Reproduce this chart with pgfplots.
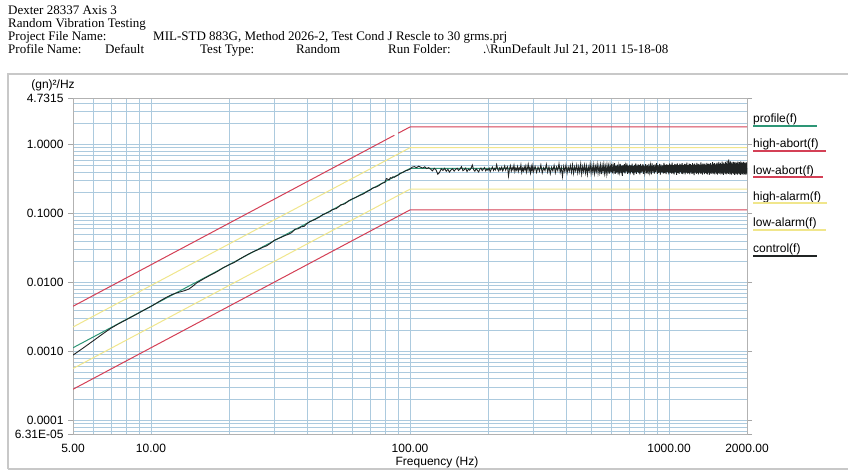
\documentclass[border=0pt]{standalone}
\usepackage{pgfplots}
\pgfplotsset{compat=1.18}
\usepackage{fontspec}
\setmainfont{Liberation Serif}
\newfontfamily\arial{Liberation Sans}
\definecolor{gridc}{RGB}{172,202,222}
\definecolor{abortc}{RGB}{212,64,86}
\definecolor{alarmc}{RGB}{240,230,140}
\definecolor{profc}{RGB}{45,150,118}
\definecolor{ctrlc}{RGB}{32,36,36}
\definecolor{framec}{RGB}{200,200,200}
\begin{document}
\begin{tikzpicture}
\begin{scope}[x=1pt,y=1pt]
\useasboundingbox (0,0) rectangle (848,470);
\fill[white] (0,0) rectangle (848,470);
\draw[framec, line width=1.2pt] (8,1) -- (8,396) -- (848,396);
\draw[framec, line width=1.2pt] (8,1) -- (848,1);
% header
\begin{scope}[every node/.style={anchor=base west, inner sep=0pt, font=\fontsize{13}{14}\selectfont}]
\node at (8,455) {Dexter 28337 Axis 3};
\node at (8,442) {Random Vibration Testing};
\node at (8,429) {Project File Name:};
\node at (153,429) {MIL-STD 883G, Method 2026-2, Test Cond J Rescle to 30 grms.prj};
\node at (8,416) {Profile Name:};
\node at (105,416) {Default};
\node at (200,416) {Test Type:};
\node at (296,416) {Random};
\node at (388,416) {Run Folder:};
\node at (483,416) {.\textbackslash RunDefault Jul 21, 2011 15-18-08};
\end{scope}
\end{scope}
\begin{axis}[
  at={(73pt,36pt)}, anchor=south west, width=674pt, height=336pt, scale only axis,
  xmode=log, ymode=log, xmin=5, xmax=2000, ymin=6.31e-5, ymax=4.7315,
  xtick={5,10,100,1000,2000},
  xticklabels={5.00,10.00,100.00,1000.00,2000.00},
  ytick={6.31e-5,1e-4,1e-3,1e-2,1e-1,1,4.7315},
  yticklabels={6.31E-05,0.0001,0.0010,0.0100,0.1000,1.0000,4.7315},
  minor xtick={6,7,8,9,20,30,40,50,60,70,80,90,200,300,400,500,600,700,800,900},
  minor ytick={7e-5,8e-5,9e-5,2e-4,3e-4,4e-4,5e-4,6e-4,7e-4,8e-4,9e-4,2e-3,3e-3,4e-3,5e-3,6e-3,7e-3,8e-3,9e-3,0.02,0.03,0.04,0.05,0.06,0.07,0.08,0.09,0.2,0.3,0.4,0.5,0.6,0.7,0.8,0.9,2,3,4},
  grid=both,
  major grid style={gridc, line width=0.7pt},
  minor grid style={gridc, line width=0.6pt},
  axis line style={draw=gray!60, line width=0.8pt},
  minor tick length=0pt,
  xtick style={draw=none},
  ytick style={draw=gray!70},
  major tick length=5pt,
  tick align=outside,
  tick label style={font=\arial\fontsize{12}{12}\selectfont},
  yticklabel style={xshift=-1pt},
  xticklabel style={yshift=-2pt},
]
% limits
\addplot[abortc, line width=1pt] coordinates {(5,0.0045) (87,1.3624)};
\addplot[abortc, line width=1pt] coordinates {(90,1.458) (100,1.8) (2000,1.8)};
\addplot[alarmc, line width=1pt] coordinates {(5,0.00225) (100,0.9) (2000,0.9)};
\addplot[alarmc, line width=1pt] coordinates {(5,0.0005625) (100,0.225) (2000,0.225)};
\addplot[abortc, line width=1pt] coordinates {(5,0.00028125) (100,0.1125) (2000,0.1125)};
\addplot[profc, line width=1pt] coordinates {(5,0.001125) (100,0.45) (2000,0.45)};
% control
\addplot[ctrlc, line width=0.9pt] table[row sep=\\] {
x y\\
5 .00088\\ 5.5 .00113\\ 6 .00143\\ 6.5 .00178\\ 7 .00216\\ 7.5 .00251\\ 8 .00285\\ 8.5 .00322\\ 9 .00362\\ 9.5 .00405\\
10 .00448\\ 10.5 .0050\\ 11 .00555\\ 11.5 .0061\\ 12 .0066\\ 12.5 .0070\\ 13 .0073\\ 13.5 .0076\\ 14 .0080\\ 14.5 .0088\\
15 .0098\\ 16 .0113\\ 17 .0128\\ 18 .0143\\ 19 .0163\\ 20 .0180\\ 21 .0195\\ 22 .0218\\ 23 .0240\\ 24 .0262\\
25 .0282\\ 26 .0300\\ 27 .0322\\ 28 .0340\\ 29 .0372\\ 30 .0410\\ 31 .0432\\ 32 .0455\\ 33 .0480\\ 34 .0500\\
35 .0530\\ 36 .0592\\ 37 .0600\\ 38 .0640\\ 39 .0650\\ 40 .0710\\ 41 .0760\\ 42 .0790\\ 43 .0820\\ 44 .0860\\
45 .0900\\ 46 .0960\\ 47 .0990\\ 48 .1030\\ 49 .1060\\ 50 .1130\\ 52 .1180\\ 54 .1330\\ 56 .1380\\ 58 .1530\\
60 .1630\\ 62 .1720\\ 64 .1830\\ 66 .1920\\ 68 .2060\\ 70 .2180\\ 72 .2350\\ 74 .2420\\ 76 .2550\\ 78 .2740\\
80 .2820\\ 81 .3200\\ 82 .3150\\ 83 .3050\\ 84 .3300\\ 85 .3250\\ 86 .3400\\ 87 .3350\\ 88 .3450\\ 90 .3600\\
92 .3850\\ 94 .3950\\ 96 .4150\\ 98 .4250\\ 100 .4400\\
102 .470\\ 104 .478\\ 106 .462\\ 108 .485\\ 110 .468\\ 112 .455\\ 114 .475\\ 116 .448\\ 118 .462\\ 120 .440\\
122 .415\\ 124 .452\\ 126 .430\\ 128 .372\\ 130 .395\\ 132 .445\\ 134 .420\\ 136 .452\\ 138 .410\\ 140 .438\\
142 .398\\ 144 .430\\ 146 .445\\ 148 .412\\ 150 .436\\ 152 .452\\ 154 .420\\ 156 .440\\ 158 .478\\ 160 .418\\
162 .432\\ 164 .455\\ 166 .405\\ 168 .440\\ 170 .425\\ 172 .450\\ 174 .505\\ 176 .432\\ 178 .410\\ 180 .445\\
182 .425\\ 184 .400\\ 186 .438\\ 188 .455\\ 190 .418\\ 192 .440\\ 194 .462\\ 196 .415\\ 198 .440\\ 200 .425\\
202 .455\\ 204 .405\\ 206 .440\\ 208 .472\\ 210 .420\\ 212 .450\\ 214 .428\\ 216 .510\\ 218 .438\\ 220 .412\\
222 .458\\ 224 .430\\ 226 .470\\ 228 .415\\ 230 .445\\ 232 .490\\ 234 .425\\ 236 .455\\ 238 .478\\ 240 .350\\
242 .438\\ 244 .492\\ 246 .412\\ 248 .462\\ 250 .428\\ 252 .500\\ 254 .405\\ 256 .455\\ 258 .425\\ 260 .480\\
262 .408\\ 264 .458\\ 266 .432\\ 268 .505\\ 270 .395\\ 272 .452\\ 274 .415\\ 276 .475\\ 278 .428\\ 280 .488\\
282 .398\\ 284 .450\\ 286 .515\\ 288 .418\\ 290 .458\\ 292 .388\\ 294 .478\\ 296 .420\\ 298 .495\\ 300 .405\\
304 .482\\ 308 .395\\ 312 .470\\ 316 .410\\ 320 .505\\ 324 .388\\ 328 .462\\ 332 .418\\ 336 .515\\ 340 .398\\
344 .475\\ 348 .378\\ 352 .468\\ 356 .415\\ 360 .498\\ 364 .390\\ 368 .472\\ 372 .420\\ 376 .525\\ 380 .395\\
384 .468\\ 388 .345\\ 392 .482\\ 396 .405\\ 400 .502\\ 404 .385\\ 408 .470\\ 412 .410\\ 416 .495\\ 420 .395\\
424 .508\\ 428 .382\\ 432 .475\\ 436 .415\\ 440 .500\\ 444 .388\\ 448 .480\\ 452 .400\\ 456 .518\\ 460 .375\\
464 .478\\ 468 .405\\ 472 .502\\ 476 .390\\ 480 .485\\ 484 .370\\ 488 .472\\ 492 .412\\ 496 .520\\ 500 .385\\
504 .488\\ 508 .398\\ 512 .505\\ 516 .380\\ 520 .478\\ 524 .410\\ 528 .512\\ 532 .388\\ 536 .482\\ 540 .395\\
544 .500\\ 548 .372\\ 552 .490\\ 556 .408\\ 560 .515\\ 564 .385\\ 568 .478\\ 572 .378\\ 576 .505\\ 580 .400\\
584 .488\\ 588 .380\\ 592 .498\\ 596 .395\\ 600 .522\\ 604 .382\\ 608 .490\\ 612 .410\\ 616 .535\\ 620 .375\\
624 .495\\ 628 .392\\ 632 .512\\ 636 .368\\ 640 .488\\ 644 .402\\ 648 .525\\ 652 .385\\ 656 .495\\ 660 .350\\
664 .500\\ 668 .395\\ 672 .518\\ 676 .380\\ 680 .488\\ 684 .405\\ 688 .530\\ 692 .375\\ 696 .492\\ 700 .392\\
704 .512\\ 708 .368\\ 712 .498\\ 716 .400\\ 720 .528\\ 724 .382\\ 728 .488\\ 732 .360\\ 736 .508\\ 740 .395\\
744 .532\\ 748 .375\\ 752 .495\\ 756 .402\\ 760 .515\\ 764 .385\\ 768 .500\\ 772 .370\\ 776 .525\\ 780 .390\\
784 .490\\ 788 .405\\ 792 .518\\ 796 .375\\ 800 .498\\
806 .390\\ 812 .518\\ 818 .382\\ 824 .505\\ 830 .372\\ 836 .522\\ 842 .398\\ 848 .498\\ 854 .368\\ 860 .530\\
866 .392\\ 872 .508\\ 878 .378\\ 884 .515\\ 890 .402\\ 896 .535\\ 902 .375\\ 908 .502\\ 914 .388\\ 920 .525\\
926 .365\\ 932 .512\\ 938 .395\\ 944 .496\\ 950 .380\\ 956 .540\\ 962 .385\\ 968 .506\\ 974 .372\\ 980 .520\\
986 .398\\ 992 .502\\ 998 .368\\ 1004 .530\\ 1010 .390\\ 1016 .510\\ 1022 .378\\ 1028 .548\\ 1034 .382\\ 1040 .504\\
1046 .370\\ 1052 .522\\ 1058 .395\\ 1064 .515\\ 1070 .362\\ 1076 .532\\ 1082 .388\\ 1088 .500\\ 1094 .375\\ 1100 .526\\
1106 .398\\ 1112 .512\\ 1118 .380\\ 1124 .538\\ 1130 .372\\ 1136 .508\\ 1142 .390\\ 1148 .525\\ 1154 .368\\ 1160 .516\\
1166 .392\\ 1172 .545\\ 1178 .378\\ 1184 .504\\ 1190 .385\\ 1196 .530\\ 1202 .370\\ 1208 .518\\ 1214 .395\\ 1220 .506\\
1226 .374\\ 1232 .535\\ 1238 .382\\ 1244 .512\\ 1250 .360\\ 1256 .528\\ 1262 .390\\ 1268 .508\\ 1274 .376\\ 1280 .540\\
1286 .388\\ 1292 .515\\ 1298 .370\\ 1304 .525\\ 1310 .392\\ 1316 .505\\ 1322 .378\\ 1328 .550\\ 1334 .382\\ 1340 .512\\
1346 .365\\ 1352 .532\\ 1358 .395\\ 1364 .516\\ 1370 .372\\ 1376 .528\\ 1382 .388\\ 1388 .506\\ 1394 .378\\ 1400 .542\\
1406 .370\\ 1412 .518\\ 1418 .392\\ 1424 .530\\ 1430 .362\\ 1436 .515\\ 1442 .385\\ 1448 .538\\ 1454 .375\\ 1460 .508\\
1466 .390\\ 1472 .555\\ 1478 .372\\ 1484 .520\\ 1490 .382\\ 1496 .535\\ 1502 .368\\ 1508 .512\\ 1514 .395\\ 1520 .528\\
1526 .378\\ 1532 .548\\ 1538 .365\\ 1544 .516\\ 1550 .388\\ 1556 .560\\ 1562 .375\\ 1568 .525\\ 1574 .392\\ 1580 .540\\
1586 .370\\ 1592 .518\\ 1598 .382\\ 1604 .565\\ 1610 .378\\ 1616 .530\\ 1622 .362\\ 1628 .546\\ 1634 .390\\ 1640 .520\\
1646 .372\\ 1652 .558\\ 1658 .382\\ 1664 .535\\ 1670 .368\\ 1676 .580\\ 1682 .388\\ 1688 .525\\ 1694 .375\\ 1700 .610\\
1706 .395\\ 1712 .540\\ 1718 .370\\ 1724 .568\\ 1730 .382\\ 1736 .532\\ 1742 .365\\ 1748 .550\\ 1754 .388\\ 1760 .525\\
1766 .372\\ 1772 .560\\ 1778 .380\\ 1784 .538\\ 1790 .362\\ 1796 .555\\ 1802 .385\\ 1808 .530\\ 1814 .370\\ 1820 .548\\
1826 .378\\ 1832 .535\\ 1838 .365\\ 1844 .565\\ 1850 .388\\ 1856 .525\\ 1862 .372\\ 1868 .555\\ 1874 .380\\ 1880 .540\\
1886 .362\\ 1892 .568\\ 1898 .382\\ 1904 .532\\ 1910 .370\\ 1916 .550\\ 1922 .375\\ 1928 .535\\ 1934 .365\\ 1940 .560\\
1946 .385\\ 1952 .525\\ 1958 .370\\ 1964 .545\\ 1970 .378\\ 1976 .532\\ 1982 .362\\ 1988 .550\\ 1994 .380\\ 2000 .455\\
};
\end{axis}
\begin{scope}[x=1pt,y=1pt]
% axis titles
\node[font=\arial\fontsize{12}{12}\selectfont, anchor=center] at (53,385) {(gn)²/Hz};
\node[font=\arial\fontsize{12}{12}\selectfont, anchor=center] at (437,8) {Frequency (Hz)};
% legend
\begin{scope}[every node/.style={anchor=west, inner sep=0pt, font=\arial\fontsize{12}{12}\selectfont}]
\node at (753,351) {profile(f)};
\draw[profc, line width=1.2pt] (753,344) -- (817,344);
\node at (753,326) {high-abort(f)};
\draw[abortc, line width=1.2pt] (753,319) -- (826,319);
\node at (753,299) {low-abort(f)};
\draw[abortc, line width=1.2pt] (753,293) -- (823,293);
\node at (753,273) {high-alarm(f)};
\draw[alarmc, line width=1.2pt] (753,267) -- (827,267);
\node at (753,247) {low-alarm(f)};
\draw[alarmc, line width=1.2pt] (753,240) -- (826,240);
\node at (753,221) {control(f)};
\draw[ctrlc, line width=1.2pt] (753,214) -- (817,214);
\end{scope}
\end{scope}
\end{tikzpicture}
\end{document}
